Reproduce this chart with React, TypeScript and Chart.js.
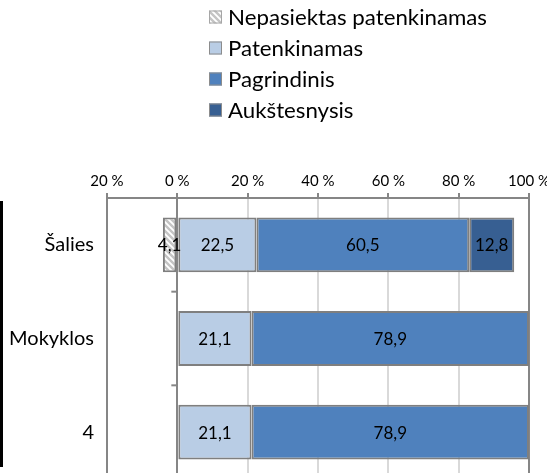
import React, { useEffect, useRef } from "react";
import { Chart, registerables } from "chart.js";
Chart.register(...registerables);

const categories = ["Šalies", "Mokyklos", "4"];
const seriesNames = ["Nepasiektas patenkinamas", "Patenkinamas", "Pagrindinis", "Aukštesnysis"];
const nepasiektas = [-4.1, 0, 0];
const patenkinamas = [22.5, 21.1, 21.1];
const pagrindinis = [60.5, 78.9, 78.9];
const aukstesnysis = [12.8, 0, 0];
const xMin = -20;
const xMax = 100;
const xStep = 20;

const FONT = "Lato, 'DejaVu Sans', sans-serif";
const GRAY = "#868686";
const LIGHT = "#D9D9D9";
const BAR_BORDER = "#7F7F7F";

function makeHatch(): CanvasPattern | string {
  const c = document.createElement("canvas");
  const s = 6;
  c.width = s;
  c.height = s;
  const g = c.getContext("2d");
  if (!g) return "#dddddd";
  g.fillStyle = "#ffffff";
  g.fillRect(0, 0, s, s);
  g.strokeStyle = "#C4C4C4";
  g.lineWidth = 2.4;
  g.beginPath();
  for (let k = -s; k <= s; k += s) {
    g.moveTo(-1, k - 1);
    g.lineTo(s + 1, k + s + 1);
  }
  g.stroke();
  const p = g.createPattern(c, "repeat");
  return p || "#dddddd";
}

const fmt = (v: number) => Math.abs(v).toFixed(1).replace(".", ",");

export default function App() {
  const ref = useRef<HTMLCanvasElement | null>(null);
  useEffect(() => {
    const canvas = ref.current;
    if (!canvas) return;
    const hatch = makeHatch();
    const colors: any[] = [hatch, "#B9CDE5", "#4F81BD", "#375F92"];
    const values = [nepasiektas, patenkinamas, pagrindinis, aukstesnysis];

    const extras = {
      id: "extras",
      afterDatasetsDraw(chart: any) {
        const ctx = chart.ctx;
        const xs = chart.scales.x;
        const ys = chart.scales.y;
        ctx.save();
        ctx.strokeStyle = GRAY;
        ctx.lineWidth = 2;
        const x0 = xs.getPixelForValue(0);
        for (let i = 1; i <= categories.length; i++) {
          const y = (ys.getPixelForValue(i - 1) + ys.getPixelForValue(i)) / 2;
          ctx.beginPath();
          ctx.moveTo(x0 - 6, y);
          ctx.lineTo(x0, y);
          ctx.stroke();
        }
        ctx.fillStyle = "#000000";
        ctx.font = `17px ${FONT}`;
        ctx.textAlign = "center";
        ctx.textBaseline = "middle";
        chart.data.datasets.forEach((ds: any, di: number) => {
          const meta = chart.getDatasetMeta(di);
          meta.data.forEach((el: any, i: number) => {
            const v = ds.data[i];
            if (!v) return;
            const cx = (el.x + el.base) / 2;
            ctx.fillText(fmt(v), cx, el.y + 1);
          });
        });
        ctx.restore();
      },
      afterDraw(chart: any) {
        const ctx = chart.ctx;
        ctx.save();
        const lx = 209;
        const textX = 228;
        const targetWidth = 259;
        const rows = [17, 48, 79, 110];
        ctx.font = `22px ${FONT}`;
        const w0 = ctx.measureText(seriesNames[0]).width;
        const sx = w0 > 0 ? Math.min(1.1, targetWidth / w0) : 1;
        ctx.textBaseline = "middle";
        ctx.textAlign = "left";
        seriesNames.forEach((name, i) => {
          const y = rows[i];
          ctx.fillStyle = colors[i];
          ctx.fillRect(lx, y - 6.5, 13, 13);
          ctx.strokeStyle = i === 0 ? "#A6A6A6" : "#8C8C8C";
          ctx.lineWidth = 1;
          ctx.strokeRect(lx + 0.5, y - 6, 12, 12);
          ctx.fillStyle = "#000000";
          ctx.save();
          ctx.translate(textX, y + 1);
          ctx.scale(sx, 1);
          ctx.font = `22px ${FONT}`;
          ctx.fillText(name, 0, 0);
          ctx.restore();
        });
        ctx.fillStyle = "#000000";
        ctx.fillRect(0, chart.chartArea.top + 3, 3, 266);
        ctx.restore();
      },
    };

    const chart = new Chart(canvas, {
      type: "bar",
      data: {
        labels: categories,
        datasets: seriesNames.map((name, i) => ({
          label: name,
          data: values[i],
          backgroundColor: colors[i],
          borderColor: BAR_BORDER,
          borderWidth: 2,
          borderSkipped: false,
          barPercentage: 0.585,
          categoryPercentage: 1,
        })),
      },
      options: {
        indexAxis: "y",
        responsive: false,
        animation: false,
        layout: { padding: { top: 158, left: 0, right: 18, bottom: 6 } },
        plugins: {
          legend: { display: false },
          tooltip: { enabled: false },
        },
        scales: {
          x: {
            type: "linear",
            position: "top",
            stacked: true,
            min: xMin,
            max: xMax,
            afterFit: (scale: any) => {
              scale.height = 40;
              scale.paddingLeft = 0;
              scale.paddingRight = 0;
            },
            ticks: {
              stepSize: xStep,
              color: "#000000",
              font: { family: FONT, size: 15 },
              padding: 3,
              callback: (v: any) => `${Math.abs(Number(v))} %`,
            },
            grid: {
              color: (c: any) => {
                const v = c.tick ? c.tick.value : 0;
                return v === 0 || v === xMin || v === xMax ? GRAY : LIGHT;
              },
              lineWidth: 2,
              drawTicks: true,
              tickLength: 5,
              tickColor: GRAY,
            },
            border: { display: true, color: GRAY, width: 2 },
          },
          y: {
            type: "category",
            stacked: true,
            afterFit: (scale: any) => {
              scale.width = 107;
              scale.paddingTop = 0;
              scale.paddingBottom = 0;
            },
            ticks: {
              color: "#000000",
              font: { family: FONT, size: 20 },
              padding: 13,
            },
            grid: { display: false, drawTicks: false },
            border: { display: false },
          },
        },
      } as any,
      plugins: [extras],
    });
    return () => chart.destroy();
  }, []);

  return (
    <div style={{ position: "fixed", left: 0, top: 0, width: 547, height: 485, background: "#fff" }}>
      <canvas ref={ref} width={547} height={485} style={{ display: "block" }} />
    </div>
  );
}
